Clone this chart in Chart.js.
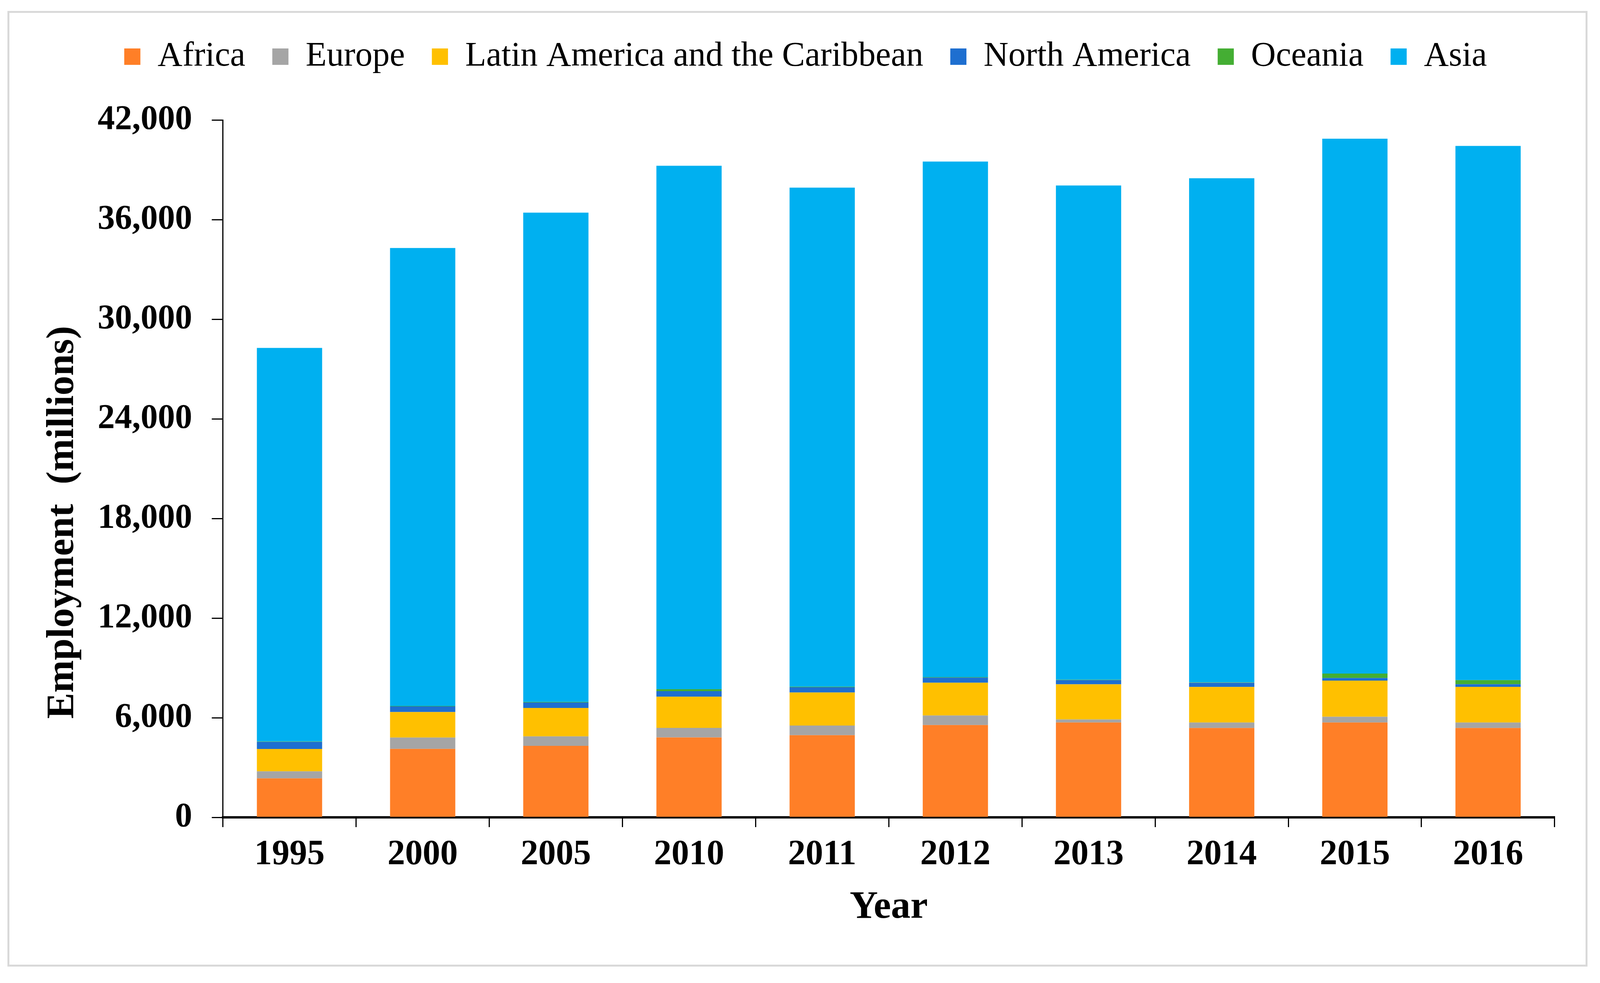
<!DOCTYPE html>
<html>
<head>
<meta charset="utf-8">
<script src="https://cdn.jsdelivr.net/npm/chart.js@4.4.1/dist/chart.umd.min.js"></script>
<style>
  html, body { margin: 0; padding: 0; background: #ffffff; overflow: hidden; }
  #wrap { position: absolute; left: 0; top: 0; }
  #frame { position: absolute; border: 5px solid #d9d9d9; box-sizing: border-box; pointer-events: none; }
</style>
</head>
<body>
<div id="wrap"><canvas id="c"></canvas></div>
<div id="frame"></div>
<script>
const years = ['1995', '2000', '2005', '2010', '2011', '2012', '2013', '2014', '2015', '2016'];
const africa   = [2350, 4125, 4305, 4810, 4945, 5560, 5713, 5380, 5713, 5380];
const europe   = [420, 680, 570, 580, 585, 577, 180, 333, 343, 333];
const latinAm  = [1350, 1535, 1715, 1875, 1990, 1968, 2120, 2140, 2180, 2147];
const northAm  = [430, 345, 330, 335, 315, 315, 253, 253, 160, 160];
const oceania  = [20, 20, 25, 120, 30, 30, 25, 25, 260, 245];
const asia     = [23702, 27585, 29475, 31522, 30060, 31043, 29760, 30359, 32216, 32168];
const yTicks   = [0, 6000, 12000, 18000, 24000, 30000, 36000, 42000];

const seriesNames  = ['Africa', 'Europe', 'Latin America and the Caribbean', 'North America', 'Oceania', 'Asia'];
const seriesValues = [africa, europe, latinAm, northAm, oceania, asia];
const seriesColors = ['#FF7F27', '#A5A5A5', '#FFC000', '#1E6FD0', '#44AE33', '#00B0F0'];

const FONT = "'Liberation Serif', 'Times New Roman', serif";

// page may be narrower than the 4163 px reference; scale horizontal geometry
const W = window.innerWidth || 4163;
const H = window.innerHeight || 2516;
const sx = W / 4163;
const wrap = document.getElementById('wrap');
wrap.style.width = W + 'px';
wrap.style.height = H + 'px';
const fr = document.getElementById('frame');
fr.style.left = (19 * sx) + 'px';
fr.style.top = '28px';
fr.style.width = ((4130 - 19) * sx) + 'px';
fr.style.height = (2474 - 28) + 'px';

const padLeft = 40 * sx;
const areaLeft = 580 * sx;
const areaRight = 4045 * sx;

const legendSpacer = {
  id: 'legendSpacer',
  beforeInit(chart) {
    const lg = chart.legend;
    if (!lg) return;
    const origFit = lg.fit;
    lg.fit = function () { origFit.call(this); this.height += 108; };
  },
  afterLayout(chart) {
    const lg = chart.legend;
    if (!lg) return;
    const d = 2096 * sx - (lg.left + lg.right) / 2;
    lg.left += d;
    lg.right += d;
  }
};

new Chart(document.getElementById('c'), {
  type: 'bar',
  data: {
    labels: years,
    datasets: seriesNames.map((n, i) => ({
      label: n,
      data: seriesValues[i],
      backgroundColor: seriesColors[i],
      borderWidth: 0,
      barPercentage: 0.49,
      categoryPercentage: 1.0
    }))
  },
  plugins: [legendSpacer],
  options: {
    responsive: true,
    maintainAspectRatio: false,
    devicePixelRatio: 1,
    animation: false,
    layout: { padding: { left: padLeft, right: W - areaRight, top: 32, bottom: 60 } },
    plugins: {
      tooltip: { enabled: false },
      legend: {
        display: true,
        position: 'top',
        labels: {
          boxWidth: 42 * sx,
          boxHeight: 42,
          padding: 69,
          color: '#000000',
          font: { family: FONT, size: 88, weight: 'normal' }
        }
      }
    },
    scales: {
      x: {
        stacked: true,
        grid: { display: true, drawOnChartArea: false, drawTicks: true, tickLength: 25, color: '#000000', lineWidth: 3, offset: true },
        border: { display: true, color: '#000000', width: 6 },
        ticks: { color: '#000000', padding: 18, font: { family: FONT, size: 90, weight: 'bold' } },
        title: { display: true, text: 'Year', color: '#000000', padding: { top: 2, bottom: 73 }, font: { family: FONT, size: 100, weight: 'bold', lineHeight: 1.2 } }
      },
      y: {
        stacked: true,
        min: 0,
        max: 42000,
        afterBuildTicks(scale) { scale.ticks = yTicks.map(v => ({ value: v })); },
        afterFit(scale) { scale.width = areaLeft - padLeft; },
        grid: { display: true, drawOnChartArea: false, drawTicks: true, tickLength: 29 * sx, color: '#000000', lineWidth: 3 },
        border: { display: true, color: '#000000', width: 3 },
        ticks: {
          color: '#000000',
          padding: 51 * sx,
          font: { family: FONT, size: 88, weight: 'bold' },
          callback: (v) => Number(v).toLocaleString('en-US')
        },
        title: {
          display: true,
          text: 'Employment  (millions)           ',
          color: '#000000',
          padding: { top: 164 * sx - padLeft - 60, bottom: 0 },
          font: { family: FONT, size: 100, weight: 'bold', lineHeight: 1.2 }
        }
      }
    }
  }
});
</script>
</body>
</html>
